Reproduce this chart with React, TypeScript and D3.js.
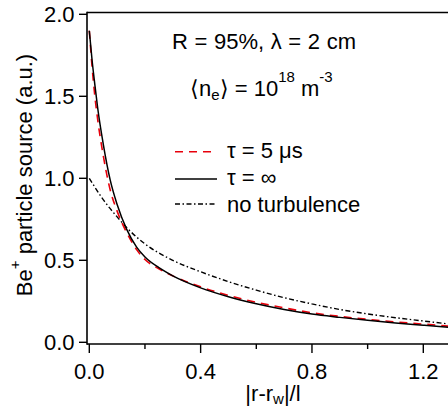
import React from "react";
import * as d3 from "d3";

const xs = [0, 0.01, 0.02, 0.03, 0.05, 0.075, 0.1, 0.134, 0.17, 0.2, 0.25, 0.3, 0.4, 0.5, 0.6, 0.7, 0.8, 0.9, 1.0, 1.1, 1.2, 1.3];
const tauInf = [1.9, 1.72, 1.57, 1.43, 1.21, 0.99, 0.84, 0.69, 0.58, 0.52, 0.455, 0.405, 0.332, 0.278, 0.235, 0.2, 0.172, 0.152, 0.134, 0.118, 0.104, 0.09];
const tau5 = [1.9, 1.68, 1.5, 1.36, 1.14, 0.93, 0.8, 0.67, 0.565, 0.505, 0.448, 0.405, 0.338, 0.286, 0.244, 0.21, 0.18, 0.158, 0.14, 0.124, 0.111, 0.097];
const noTurbX = [0, 0.05, 0.1, 0.134, 0.2, 0.3, 0.4, 0.5, 0.6, 0.7, 0.8, 0.9, 1.0, 1.1, 1.2, 1.3];
const noTurb = [1.0, 0.87, 0.765, 0.7, 0.6, 0.5, 0.43, 0.37, 0.318, 0.272, 0.234, 0.2, 0.173, 0.15, 0.13, 0.11];
const xTicks = [0, 0.4, 0.8, 1.2];
const xMinor = [0.2, 0.6, 1.0];
const yTicks = [0, 0.5, 1.0, 1.5, 2.0];

const W = 448, H = 407;
const FONT = "'Liberation Sans', Arial, sans-serif";

export default function App() {
  const x = d3.scaleLinear().domain([0, 1.2]).range([89.3, 423.3]);
  const y = d3.scaleLinear().domain([0, 2]).range([342.3, 14.3]);
  const axL = 87, axB = 344, axT = 12.5;
  const line = d3.line<[number, number]>().x(d => x(d[0])).y(d => y(d[1])).curve(d3.curveMonotoneX);
  const pInf = line(xs.map((v, i) => [v, tauInf[i]] as [number, number])) || "";
  const p5 = line(xs.map((v, i) => [v, tau5[i]] as [number, number])) || "";
  const pNo = line(noTurbX.map((v, i) => [v, noTurb[i]] as [number, number])) || "";
  const fs = 22;
  return (
    <svg width={W} height={H} style={{ position: "absolute", left: 0, top: 0, background: "#fff" }} fontFamily={FONT}>
      <defs>
        <clipPath id="plot"><rect x={axL} y={axT} width={W - axL} height={axB - axT} /></clipPath>
      </defs>
      <g clipPath="url(#plot)" fill="none">
        <path d={pNo} stroke="#000" strokeWidth={1.4} strokeDasharray="5,2.5,1.5,2.5" />
        <path d={p5} stroke="#e8000b" strokeWidth={1.6} strokeDasharray="8,6" />
        <path d={pInf} stroke="#000" strokeWidth={1.5} />
      </g>
      {/* frame */}
      <line x1={axL} x2={W} y1={axT} y2={axT} stroke="#000" strokeWidth={1.6} />
      <line x1={axL} x2={axL} y1={axT - 0.8} y2={axB + 0.8} stroke="#000" strokeWidth={1.6} />
      <line x1={axL} x2={W} y1={axB} y2={axB} stroke="#000" strokeWidth={1.6} />
      {yTicks.map(t => (
        <g key={"y" + t}>
          <line x1={axL - 8} x2={axL} y1={y(t)} y2={y(t)} stroke="#000" strokeWidth={1.4} />
          <text x={74.5} y={y(t)} dy="0.36em" textAnchor="end" fontSize={fs}>{t.toFixed(1)}</text>
        </g>
      ))}
      {xTicks.map(t => (
        <g key={"x" + t}>
          <line x1={x(t)} x2={x(t)} y1={axB} y2={axB + 9} stroke="#000" strokeWidth={1.4} />
          <text x={x(t)} y={379} textAnchor="middle" fontSize={fs}>{t.toFixed(1)}</text>
        </g>
      ))}
      {xMinor.map(t => (
        <line key={"m" + t} x1={x(t)} x2={x(t)} y1={axB} y2={axB + 5} stroke="#000" strokeWidth={1.4} />
      ))}
      {/* axis titles */}
      <text x={273} y={401} textAnchor="middle" fontSize={fs}>
        |r-r<tspan fontSize={15} dy={3}>w</tspan><tspan dy={-3}>|/l</tspan>
      </text>
      <text transform="translate(32,175) rotate(-90)" textAnchor="middle" fontSize={fs}>
        Be<tspan fontSize={15} dy={-12}>+</tspan><tspan dy={12}> particle source (a.u.)</tspan>
      </text>
      {/* annotations */}
      <text x={172} y={49} fontSize={fs} wordSpacing={0.5}>R = 95%, λ = 2 cm</text>
      <text x={190} y={96} fontSize={fs}>
        ⟨n<tspan fontSize={15} dy={4}>e</tspan><tspan dy={-4}>⟩ = 10</tspan><tspan fontSize={15} dy={-14}>18</tspan><tspan dy={14}> m</tspan><tspan fontSize={15} dy={-14}>-3</tspan>
      </text>
      {/* legend */}
      <line x1={175} x2={217} y1={151.7} y2={151.7} stroke="#e8000b" strokeWidth={1.6} strokeDasharray="8,6" />
      <text x={227} y={158} fontSize={fs}>τ = 5 μs</text>
      <line x1={175} x2={217} y1={179} y2={179} stroke="#000" strokeWidth={1.5} />
      <text x={227} y={185} fontSize={fs}>τ = ∞</text>
      <line x1={175} x2={217} y1={204} y2={204} stroke="#000" strokeWidth={1.4} strokeDasharray="5,2.5,1.5,2.5" />
      <text x={227} y={212} fontSize={fs}>no turbulence</text>
    </svg>
  );
}
